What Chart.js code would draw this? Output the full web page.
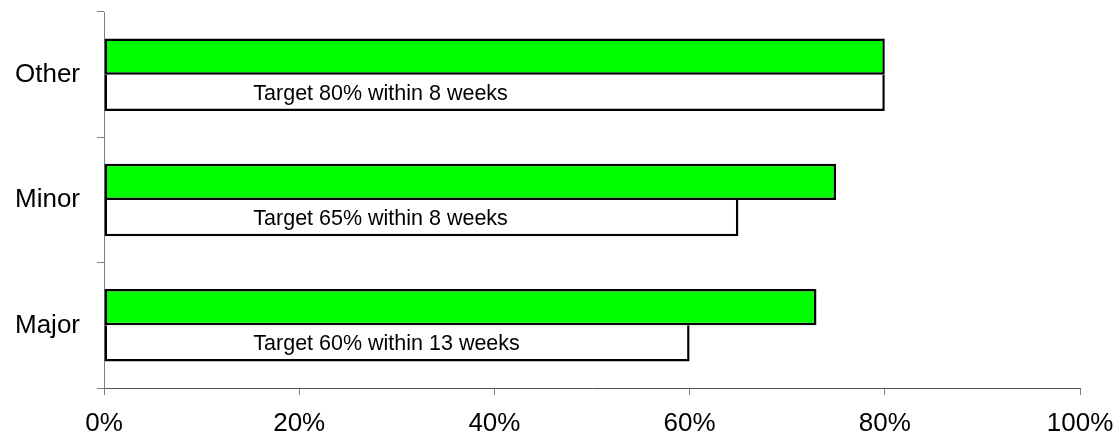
<!DOCTYPE html>
<html>
<head>
<meta charset="utf-8">
<script src="https://cdn.jsdelivr.net/npm/chart.js@4"></script>
<style>
  html, body { margin: 0; padding: 0; background: #fff; }
  #wrap { width: 1115px; height: 434px; }
</style>
</head>
<body>
<div id="wrap"><canvas id="perfChart" width="1115" height="434"></canvas></div>
<script>
// categories, top to bottom
const categories = ['Other', 'Minor', 'Major'];
// achieved (green) and target (white) percentages
const achieved = [80, 75, 73];
const targets = [80, 65, 60];
const targetLabels = [
    'Target 80% within 8 weeks',
    'Target 65% within 8 weeks',
    'Target 60% within 13 weeks'
];
const xTicks = [0, 20, 40, 60, 80, 100];
// where the target text starts, in axis units (%)
const labelStart = 15.3;

const FONT = '"Liberation Sans", Arial, sans-serif';

// write the target text inside each white bar
const targetTextPlugin = {
    id: 'targetText',
    afterDatasetsDraw(chart) {
        const ctx = chart.ctx;
        const meta = chart.getDatasetMeta(1);
        const x = chart.scales.x.getPixelForValue(labelStart);
        ctx.save();
        ctx.font = '21.5px ' + FONT;
        ctx.fillStyle = '#000';
        ctx.textAlign = 'left';
        ctx.textBaseline = 'middle';
        meta.data.forEach((bar, i) => {
            ctx.fillText(targetLabels[i], x, bar.y + 1);
        });
        ctx.restore();
    }
};

new Chart(document.getElementById('perfChart').getContext('2d'), {
    type: 'bar',
    data: {
        labels: categories,
        datasets: [{
            label: 'Achieved',
            data: achieved,
            backgroundColor: '#00ff00',
            borderColor: '#000',
            borderWidth: 2.5,
            borderSkipped: false
        }, {
            label: 'Target',
            data: targets,
            backgroundColor: '#fff',
            borderColor: '#000',
            borderWidth: { top: 0, right: 2.5, bottom: 2.5, left: 2.5 },
            borderSkipped: false
        }]
    },
    options: {
        indexAxis: 'y',
        responsive: false,
        animation: false,
        categoryPercentage: 0.578,
        barPercentage: 1.0,
        layout: { padding: { top: 0, left: 0, right: 0, bottom: 0 } },
        plugins: {
            legend: { display: false },
            tooltip: { enabled: false }
        },
        scales: {
            x: {
                min: 0,
                max: 100,
                afterBuildTicks(scale) {
                    scale.ticks = xTicks.map(v => ({ value: v }));
                },
                afterFit(scale) {
                    scale.height = 46;
                    scale.paddingLeft = 0;
                    scale.paddingRight = 35;
                },
                border: { color: '#555', width: 1 },
                grid: { drawOnChartArea: false, tickLength: 7, color: '#808080' },
                ticks: {
                    padding: 13,
                    color: '#000',
                    font: { family: FONT, size: 26 },
                    callback: v => v + '%'
                }
            },
            y: {
                afterFit(scale) {
                    scale.width = 104;
                    scale.paddingTop = 12;
                    scale.paddingBottom = 0;
                },
                border: { color: '#808080', width: 1 },
                grid: { drawOnChartArea: false, tickLength: 7, color: '#808080', offset: true },
                ticks: {
                    padding: 17,
                    color: '#000',
                    font: { family: FONT, size: 26 }
                }
            }
        }
    },
    plugins: [targetTextPlugin]
});
</script>
</body>
</html>
